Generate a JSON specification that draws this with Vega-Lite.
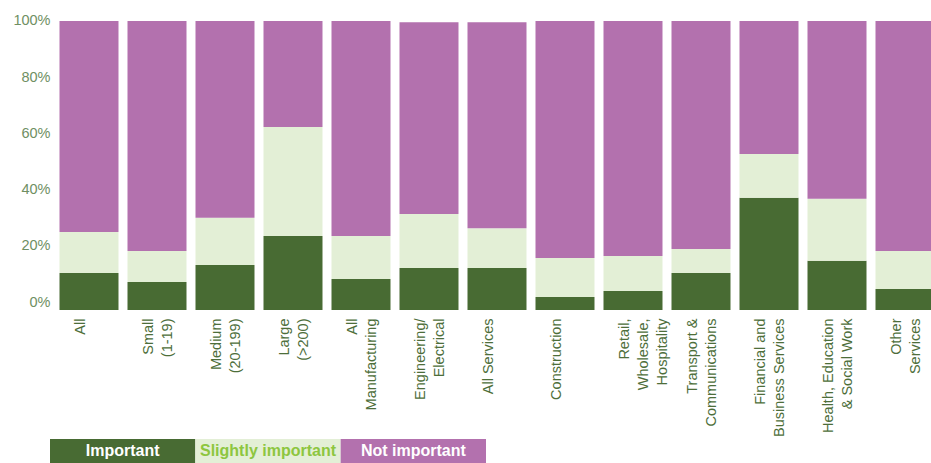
{
  "$schema": "https://vega.github.io/schema/vega-lite/v6.json",
  "width": 876,
  "height": 289,
  "autosize": {"type": "none"},
  "padding": {"left": 55, "top": 21, "right": 0, "bottom": 153},
  "background": "white",
  "config": {"view": {"stroke": null}, "font": "Liberation Sans"},
  "layer": [
    {
      "data": {
        "values": [
          {"c": "All", "k": "Important", "o": 1, "v": 12.8},
          {"c": "All", "k": "Slightly important", "o": 2, "v": 14.2},
          {"c": "All", "k": "Not important", "o": 3, "v": 73.0},
          {"c": "Small|(1-19)", "k": "Important", "o": 1, "v": 9.7},
          {"c": "Small|(1-19)", "k": "Slightly important", "o": 2, "v": 10.7},
          {"c": "Small|(1-19)", "k": "Not important", "o": 3, "v": 79.6},
          {"c": "Medium|(20-199)", "k": "Important", "o": 1, "v": 15.6},
          {"c": "Medium|(20-199)", "k": "Slightly important", "o": 2, "v": 16.3},
          {"c": "Medium|(20-199)", "k": "Not important", "o": 3, "v": 68.1},
          {"c": "Large|(>200)", "k": "Important", "o": 1, "v": 25.6},
          {"c": "Large|(>200)", "k": "Slightly important", "o": 2, "v": 37.7},
          {"c": "Large|(>200)", "k": "Not important", "o": 3, "v": 36.7},
          {"c": "All|Manufacturing", "k": "Important", "o": 1, "v": 10.7},
          {"c": "All|Manufacturing", "k": "Slightly important", "o": 2, "v": 14.9},
          {"c": "All|Manufacturing", "k": "Not important", "o": 3, "v": 74.4},
          {"c": "Engineering/|Electrical", "k": "Important", "o": 1, "v": 14.5},
          {"c": "Engineering/|Electrical", "k": "Slightly important", "o": 2, "v": 18.7},
          {"c": "Engineering/|Electrical", "k": "Not important", "o": 3, "v": 66.4},
          {"c": "All Services", "k": "Important", "o": 1, "v": 14.5},
          {"c": "All Services", "k": "Slightly important", "o": 2, "v": 13.8},
          {"c": "All Services", "k": "Not important", "o": 3, "v": 71.3},
          {"c": "Construction", "k": "Important", "o": 1, "v": 4.5},
          {"c": "Construction", "k": "Slightly important", "o": 2, "v": 13.5},
          {"c": "Construction", "k": "Not important", "o": 3, "v": 82.0},
          {"c": "Retail,|Wholesale,|Hospitality", "k": "Important", "o": 1, "v": 6.6},
          {"c": "Retail,|Wholesale,|Hospitality", "k": "Slightly important", "o": 2, "v": 12.1},
          {"c": "Retail,|Wholesale,|Hospitality", "k": "Not important", "o": 3, "v": 81.3},
          {"c": "Transport &|Communications", "k": "Important", "o": 1, "v": 12.8},
          {"c": "Transport &|Communications", "k": "Slightly important", "o": 2, "v": 8.3},
          {"c": "Transport &|Communications", "k": "Not important", "o": 3, "v": 78.9},
          {"c": "Financial and|Business Services", "k": "Important", "o": 1, "v": 38.8},
          {"c": "Financial and|Business Services", "k": "Slightly important", "o": 2, "v": 15.2},
          {"c": "Financial and|Business Services", "k": "Not important", "o": 3, "v": 46.0},
          {"c": "Health, Education|& Social Work", "k": "Important", "o": 1, "v": 17.0},
          {"c": "Health, Education|& Social Work", "k": "Slightly important", "o": 2, "v": 21.5},
          {"c": "Health, Education|& Social Work", "k": "Not important", "o": 3, "v": 61.5},
          {"c": "Other|Services", "k": "Important", "o": 1, "v": 7.3},
          {"c": "Other|Services", "k": "Slightly important", "o": 2, "v": 13.1},
          {"c": "Other|Services", "k": "Not important", "o": 3, "v": 79.6}
        ]
      },
      "mark": {"type": "bar"},
      "encoding": {
        "x": {
          "field": "c",
          "type": "nominal",
          "sort": null,
          "scale": {"range": [0, 884], "paddingInner": 0.1324, "paddingOuter": 0.0662},
          "axis": {
            "title": null,
            "domain": false,
            "ticks": false,
            "labelAngle": -90,
            "labelAlign": "right",
            "labelBaseline": "top",
            "labelOffset": -15,
            "labelPadding": 8,
            "labelFontSize": 14.5,
            "labelColor": "#4d6e3a",
            "labelLineHeight": 19,
            "labelOverlap": false,
            "labelExpr": "split(datum.value, '|')"
          }
        },
        "y": {
          "field": "v",
          "type": "quantitative",
          "stack": "zero",
          "scale": {"domain": [0, 100], "nice": false},
          "axis": {
            "title": null,
            "values": [0, 20, 40, 60, 80, 100],
            "domain": false,
            "ticks": false,
            "grid": false,
            "labelPadding": 5,
            "labelFontSize": 14.5,
            "labelColor": "#6f8f63",
            "labelExpr": "datum.value + '%'",
            "labelOffset": {
              "condition": [
                {"test": "datum.value == 0", "value": -8},
                {"test": "datum.value == 20", "value": -6.5},
                {"test": "datum.value == 40", "value": -4.6},
                {"test": "datum.value == 60", "value": -3.4},
                {"test": "datum.value == 80", "value": -1.4}
              ],
              "value": -1
            }
          }
        },
        "color": {
          "field": "k",
          "type": "nominal",
          "scale": {"domain": ["Important", "Slightly important", "Not important"], "range": ["#486b33", "#e3efd6", "#b371ae"]},
          "legend": null
        },
        "order": {"field": "o", "type": "quantitative"}
      }
    },
    {
      "data": {
        "values": [
          {"k": "Important", "r": "legend"},
          {"k": "Slightly important", "r": "legend"},
          {"k": "Not important", "r": "legend"}
        ]
      },
      "encoding": {
        "x": {
          "field": "k",
          "type": "nominal",
          "sort": ["Important", "Slightly important", "Not important"],
          "scale": {"range": [-5, 431], "paddingInner": 0, "paddingOuter": 0},
          "axis": null
        },
        "y": {
          "field": "r",
          "type": "nominal",
          "scale": {"range": [418, 442], "paddingInner": 0, "paddingOuter": 0},
          "axis": null
        }
      },
      "layer": [
        {
          "mark": {"type": "bar"},
          "encoding": {
            "color": {
              "field": "k",
              "type": "nominal",
              "scale": {"domain": ["Important", "Slightly important", "Not important"], "range": ["#486b33", "#e3efd6", "#b371ae"]},
              "legend": null
            }
          }
        },
        {
          "mark": {"type": "text", "fontSize": 16, "fontWeight": "bold", "baseline": "middle", "align": "center"},
          "encoding": {
            "text": {"field": "k"},
            "color": {
              "condition": {"test": "datum.k === 'Slightly important'", "value": "#8dc63f"},
              "value": "#ffffff"
            }
          }
        }
      ]
    }
  ],
  "resolve": {"scale": {"x": "independent", "y": "independent", "color": "independent"}}
}
